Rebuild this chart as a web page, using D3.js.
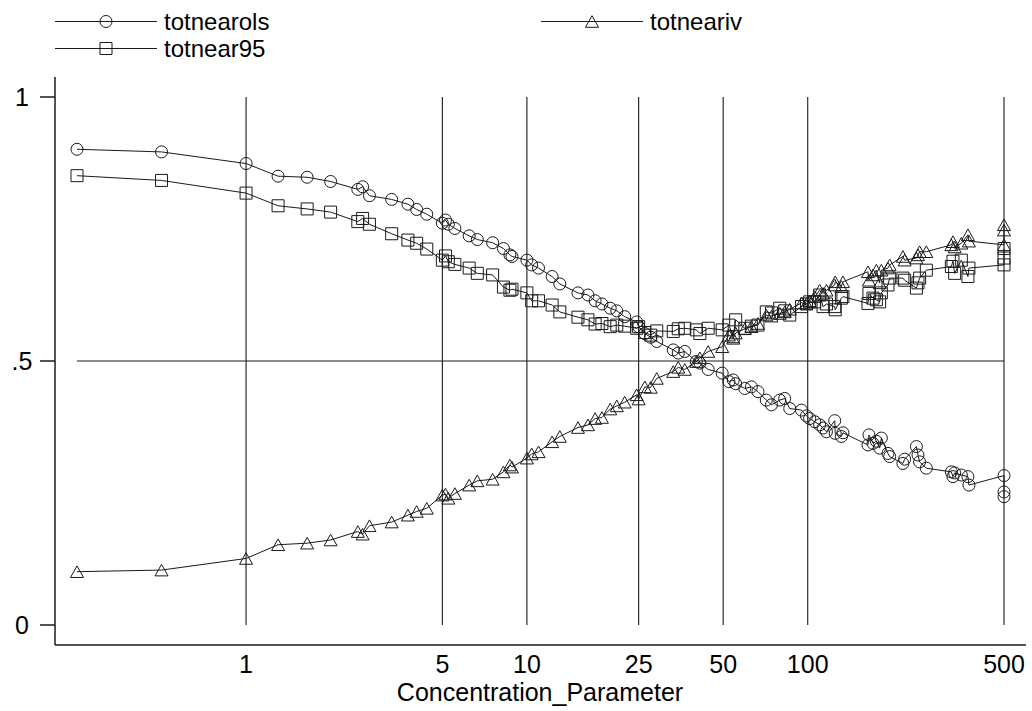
<!DOCTYPE html>
<html>
<head>
<meta charset="utf-8">
<script src="https://cdn.jsdelivr.net/npm/d3@7/dist/d3.min.js"></script>
<style>
  html, body { margin: 0; padding: 0; background: #fff; }
  svg { display: block; }
  text { font-family: "Liberation Sans", Arial, Helvetica, sans-serif; fill: #000; }
</style>
</head>
<body>
<svg id="chart" width="1032" height="711"></svg>
<script>
// Concentration parameter (x, log scale) for every simulated draw
const conc = [0.25, 0.5, 1, 1.3, 1.65, 2, 2.5, 2.6, 2.75, 3.3, 3.77, 4.05, 4.4, 5, 5.13, 5.25, 5.54,
  6.23, 6.66, 7.55, 8.25, 8.7, 8.85, 10, 10.4, 11, 12.3, 13.1, 15.2, 16.5, 17.5, 18.5, 19.8, 20.9,
  22.3, 24.6, 25, 26.3, 27.6, 29, 33.2, 34.6, 36.5, 40.1, 41.3, 44.2, 49.6, 52.4, 54.3, 55.4, 59.7,
  63, 66.5, 71.2, 74.3, 79.5, 82.8, 86.3, 95, 99, 101.6, 105.9, 110.3, 113.4, 116.6, 124.8, 125.3,
  131.8, 133.5, 163.9, 165.2, 170.8, 175.6, 180.4, 182.9, 193.1, 195.8, 218.3, 221.4, 243.8, 247,
  250.3, 264.5, 324.7, 329, 333.6, 352.4, 372, 375, 500, 500, 500];

const totnearols = [0.901, 0.896, 0.874, 0.850, 0.848, 0.840, 0.825, 0.830, 0.813, 0.806, 0.797,
  0.787, 0.778, 0.761, 0.767, 0.759, 0.751, 0.737, 0.730, 0.724, 0.713, 0.701, 0.698, 0.691, 0.682,
  0.676, 0.660, 0.646, 0.629, 0.625, 0.614, 0.608, 0.600, 0.595, 0.584, 0.574, 0.565, 0.552, 0.545,
  0.537, 0.521, 0.515, 0.518, 0.499, 0.496, 0.484, 0.477, 0.461, 0.464, 0.457, 0.448, 0.451, 0.442,
  0.426, 0.417, 0.426, 0.429, 0.410, 0.407, 0.396, 0.391, 0.385, 0.379, 0.373, 0.366, 0.387, 0.363,
  0.357, 0.364, 0.341, 0.360, 0.344, 0.348, 0.335, 0.354, 0.325, 0.319, 0.306, 0.314, 0.338, 0.322,
  0.309, 0.297, 0.290, 0.281, 0.288, 0.284, 0.281, 0.265, 0.283, 0.252, 0.243];

const totnear95 = [0.851, 0.842, 0.818, 0.794, 0.788, 0.782, 0.764, 0.770, 0.759, 0.741, 0.729,
  0.723, 0.712, 0.691, 0.699, 0.688, 0.683, 0.676, 0.666, 0.663, 0.640, 0.634, 0.636, 0.629, 0.614,
  0.614, 0.606, 0.593, 0.583, 0.578, 0.570, 0.571, 0.565, 0.568, 0.566, 0.562, 0.565, 0.554, 0.549,
  0.557, 0.556, 0.561, 0.562, 0.559, 0.552, 0.562, 0.559, 0.568, 0.546, 0.578, 0.562, 0.566, 0.568,
  0.593, 0.591, 0.600, 0.595, 0.587, 0.603, 0.608, 0.612, 0.612, 0.625, 0.603, 0.608, 0.603, 0.597,
  0.619, 0.622, 0.609, 0.628, 0.619, 0.616, 0.612, 0.629, 0.644, 0.657, 0.657, 0.653, 0.638, 0.648,
  0.657, 0.672, 0.679, 0.689, 0.666, 0.691, 0.660, 0.676, 0.682, 0.695, 0.713];

const totneariv = [0.101, 0.104, 0.126, 0.152, 0.155, 0.161, 0.177, 0.172, 0.188, 0.195, 0.208,
  0.215, 0.221, 0.246, 0.248, 0.240, 0.249, 0.265, 0.273, 0.276, 0.290, 0.303, 0.299, 0.316, 0.324,
  0.328, 0.347, 0.357, 0.374, 0.379, 0.391, 0.393, 0.409, 0.415, 0.422, 0.436, 0.428, 0.451, 0.450,
  0.467, 0.480, 0.488, 0.484, 0.499, 0.506, 0.518, 0.527, 0.549, 0.543, 0.553, 0.561, 0.565, 0.571,
  0.587, 0.585, 0.590, 0.593, 0.598, 0.610, 0.609, 0.614, 0.622, 0.634, 0.628, 0.634, 0.644, 0.650,
  0.641, 0.650, 0.669, 0.653, 0.663, 0.672, 0.648, 0.672, 0.676, 0.682, 0.698, 0.691, 0.695, 0.701,
  0.707, 0.707, 0.720, 0.726, 0.716, 0.723, 0.739, 0.727, 0.720, 0.748, 0.758];

const xTicks = [1, 5, 10, 25, 50, 100, 500];
const yTicks = [0, 0.5, 1];
const yTickLabels = ["0", ".5", "1"];
const xTitle = "Concentration_Parameter";

const series = [
  { name: "totnearols", values: totnearols, marker: "circle" },
  { name: "totnear95", values: totnear95, marker: "square" },
  { name: "totneariv", values: totneariv, marker: "triangle" }
];

const svg = d3.select("#chart");
const ink = "#1a1a1a";
const fontSize = 25;
const legendFontSize = 24;

// data range maps to the inner plot area; axes sit a small margin outside it
const x = d3.scaleLog().domain([0.25, 500]).range([77, 1004]);
const y = d3.scaleLinear().domain([0, 1]).range([625, 97]);
const plot = { left: 55, right: 1026, top: 77, bottom: 645 };

// marker shapes, all hollow
function markerPath(kind) {
  if (kind === "circle") {
    const r = 6;
    return `M${r},0A${r},${r} 0 1,1 ${-r},0A${r},${r} 0 1,1 ${r},0Z`;
  }
  if (kind === "square") {
    const h = 6;
    return `M${-h},${-h}H${h}V${h}H${-h}Z`;
  }
  const w = 6.5, hh = 5.8;
  return `M0,${-hh}L${w},${hh}L${-w},${hh}Z`;
}

// grid lines at the labelled values
const grid = svg.append("g").attr("stroke", ink).attr("stroke-width", 1.1);
grid.selectAll("line.vx").data(xTicks).join("line")
  .attr("x1", d => x(d)).attr("x2", d => x(d))
  .attr("y1", y(0)).attr("y2", y(1));
grid.selectAll("line.hy").data(yTicks.filter(d => d > 0 && d < 1)).join("line")
  .attr("x1", x(0.25)).attr("x2", x(500))
  .attr("y1", d => y(d)).attr("y2", d => y(d));

// axis lines
svg.append("line").attr("x1", plot.left).attr("x2", plot.left)
  .attr("y1", plot.top).attr("y2", plot.bottom)
  .attr("stroke", ink).attr("stroke-width", 1.5);
svg.append("line").attr("x1", plot.left).attr("x2", plot.right)
  .attr("y1", plot.bottom).attr("y2", plot.bottom)
  .attr("stroke", ink).attr("stroke-width", 1.5);

// y ticks and labels
const yAx = svg.append("g");
yAx.selectAll("line").data(yTicks).join("line")
  .attr("x1", plot.left - 15).attr("x2", plot.left)
  .attr("y1", d => y(d)).attr("y2", d => y(d))
  .attr("stroke", ink).attr("stroke-width", 1.5);
yAx.selectAll("text").data(yTicks).join("text")
  .attr("x", 22).attr("y", d => y(d)).attr("dy", "0.35em")
  .attr("text-anchor", "middle").attr("font-size", fontSize)
  .text((d, i) => yTickLabels[i]);

// x tick labels (no tick marks)
svg.append("g").selectAll("text").data(xTicks).join("text")
  .attr("x", d => x(d)).attr("y", 673)
  .attr("text-anchor", "middle").attr("font-size", fontSize)
  .text(d => String(d));

svg.append("text").attr("x", 540).attr("y", 701)
  .attr("text-anchor", "middle").attr("font-size", fontSize)
  .text(xTitle);

// series: connecting lines then hollow markers
const line = d3.line().x(d => x(d[0])).y(d => y(d[1]));
series.forEach(s => {
  const pts = conc.map((c, i) => [c, s.values[i]]);
  const g = svg.append("g");
  g.append("path").datum(pts).attr("d", line)
    .attr("fill", "none").attr("stroke", ink).attr("stroke-width", 1);
  g.selectAll("path.m").data(pts).join("path").attr("class", "m")
    .attr("transform", d => `translate(${x(d[0])},${y(d[1])})`)
    .attr("d", markerPath(s.marker))
    .attr("fill", "none").attr("stroke", ink).attr("stroke-width", 1);
});

// legend: two columns, key line with marker in the middle
const legendPos = [
  { col: 0, row: 0 }, { col: 0, row: 1 }, { col: 1, row: 0 }
];
const colX = [55, 541];
const rowY = [21.5, 48.5];
const keyLen = 102;
series.forEach((s, i) => {
  const p = legendPos[i];
  const gx = colX[p.col], gy = rowY[p.row];
  const g = svg.append("g");
  g.append("line").attr("x1", gx).attr("x2", gx + keyLen).attr("y1", gy).attr("y2", gy)
    .attr("stroke", ink).attr("stroke-width", 1);
  g.append("path").attr("transform", `translate(${gx + keyLen / 2},${gy})`)
    .attr("d", markerPath(s.marker)).attr("fill", "none").attr("stroke", ink).attr("stroke-width", 1);
  g.append("text").attr("x", gx + keyLen + 7).attr("y", gy).attr("dy", "0.35em")
    .attr("font-size", legendFontSize).text(s.name);
});
</script>
</body>
</html>
